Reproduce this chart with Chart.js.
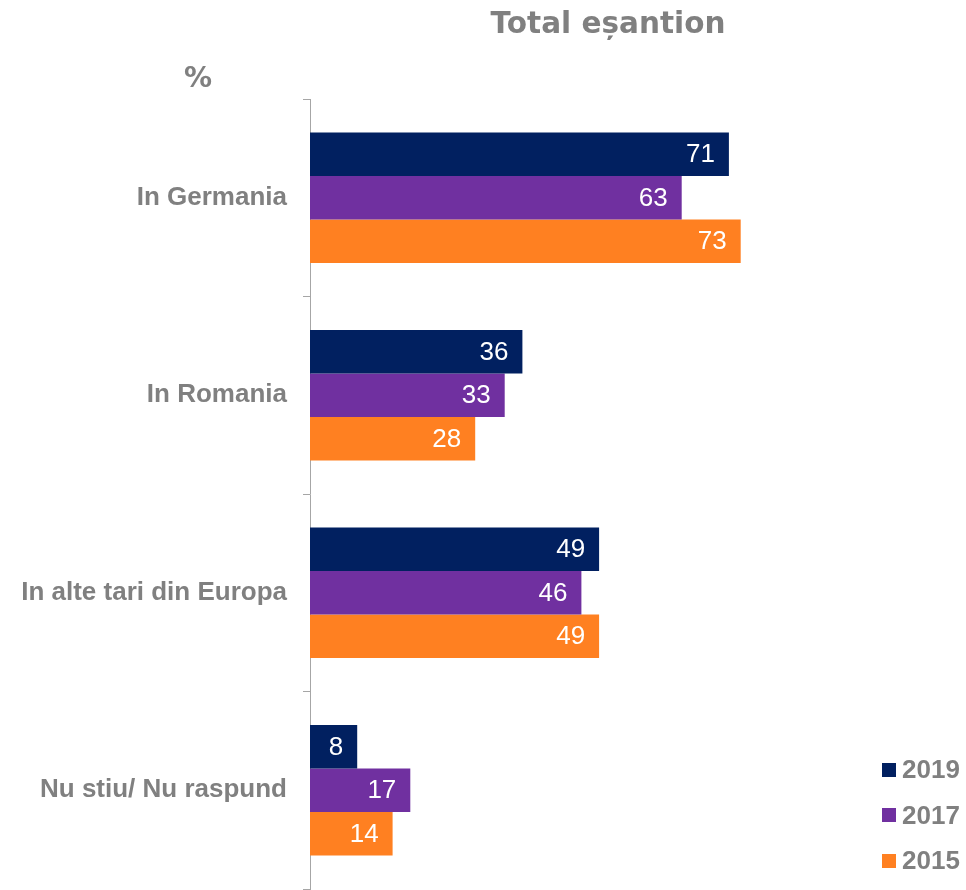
<!DOCTYPE html>
<html>
<head>
<meta charset="utf-8">
<script src="https://cdn.jsdelivr.net/npm/chart.js@4"></script>
<style>
  html, body { margin: 0; padding: 0; background: #fff; }
  #wrap { position: relative; width: 966px; height: 890px; overflow: hidden; }
  #title {
    position: absolute; left: 458px; top: 6px; width: 300px; text-align: center;
    font: bold 29.5px 'DejaVu Sans', sans-serif; color: #808080;
  }
  #pct {
    position: absolute; left: 184px; top: 61px;
    font: bold 28px 'DejaVu Sans', sans-serif; color: #808080;
  }
  #legend { position: absolute; left: 882px; top: 747px; }
  .litem { display: flex; align-items: center; height: 45.5px;
    font: bold 26px 'Liberation Sans', Arial, sans-serif; color: #808080; }
  .lbox { width: 14px; height: 14px; margin-right: 6px; }
</style>
</head>
<body>
<div id="wrap">
  <canvas id="chart" width="966" height="890"></canvas>
  <div id="title">Total eșantion</div>
  <div id="pct">%</div>
  <div id="legend"></div>
</div>
<script>
/* ── DATA ─────────────────────────────────────────────── */
const categories = ['In Germania', 'In Romania', 'In alte tari din Europa', 'Nu stiu/ Nu raspund'];
const seriesNames = ['2019', '2017', '2015'];
const values2019 = [71, 36, 49, 8];
const values2017 = [63, 33, 46, 17];
const values2015 = [73, 28, 49, 14];
const COLORS = ['#012060', '#7030A0', '#FF8021'];

/* ── LEGEND (html) ────────────────────────────────────── */
document.getElementById('legend').innerHTML = seriesNames.map((n, i) => `
  <div class="litem"><span class="lbox" style="background:${COLORS[i]}"></span>${n}</div>`).join('');

/* ── VALUE LABELS INSIDE BAR END ──────────────────────── */
const barLabels = {
  id: 'barLabels',
  afterDatasetsDraw(chart) {
    const ctx = chart.ctx;
    ctx.save();
    ctx.font = '26px "Liberation Sans", Arial, sans-serif';
    ctx.fillStyle = '#fff';
    ctx.textAlign = 'right';
    ctx.textBaseline = 'middle';
    chart.data.datasets.forEach((ds, di) => {
      chart.getDatasetMeta(di).data.forEach((bar, i) => {
        ctx.fillText(ds.data[i], bar.x - 14, bar.y + 1);
      });
    });
    ctx.restore();
  }
};

/* ── CHART ────────────────────────────────────────────── */
const AXIS_GRAY = '#a6a6a6';
new Chart(document.getElementById('chart').getContext('2d'), {
  type: 'bar',
  data: {
    labels: categories,
    datasets: [values2019, values2017, values2015].map((d, i) => ({
      label: seriesNames[i],
      data: d,
      backgroundColor: COLORS[i],
      borderWidth: 0,
      categoryPercentage: 0.66,
      barPercentage: 1.0
    }))
  },
  options: {
    indexAxis: 'y',
    responsive: false,
    animation: false,
    layout: { padding: { top: 99, bottom: 1, left: 0, right: 66 } },
    plugins: { legend: { display: false }, tooltip: { enabled: false } },
    scales: {
      x: { display: false, min: 0, max: 100 },
      y: {
        /* fixed axis width, no extra label padding top/bottom */
        afterFit: s => { s.width = 310; s.paddingTop = 0; s.paddingBottom = 0; },
        grid: { drawOnChartArea: false, drawTicks: true, tickLength: 7, color: AXIS_GRAY, offset: true },
        border: { display: true, color: AXIS_GRAY, width: 1 },
        ticks: {
          padding: 16,
          color: '#808080',
          font: { size: 26, weight: 'bold', family: '"Liberation Sans", Arial, sans-serif' }
        }
      }
    }
  },
  plugins: [barLabels]
});
</script>
</body>
</html>
